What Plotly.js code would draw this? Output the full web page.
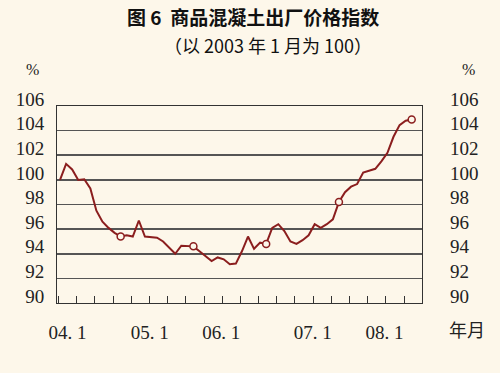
<!DOCTYPE html>
<html>
<head>
<meta charset="utf-8">
<script src="https://cdn.plot.ly/plotly-3.0.1.min.js"></script>
<style>html,body{margin:0;padding:0;background:#FDF7EA;}</style>
</head>
<body>
<div id="chart" style="width:500px;height:373px;"></div>
<script>
// Monthly index (2003年1月 = 100), month number counted from the first point
const months = [];
const priceIndex = [
  100.0, 101.3, 100.85, 100.0, 100.05, 99.3, 97.5, 96.6, 96.1, 95.7,
  95.4, 95.5, 95.4, 96.7, 95.4, 95.35, 95.3, 95.0, 94.5, 94.0,
  94.65, 94.6, 94.6, 94.2, 93.8, 93.4, 93.7, 93.55, 93.15, 93.2,
  94.2, 95.4, 94.4, 94.9, 94.8, 96.1, 96.4, 95.85, 95.0, 94.8,
  95.1, 95.5, 96.4, 96.1, 96.4, 96.8, 98.2, 99.0, 99.45, 99.66,
  100.6, 100.75, 100.9, 101.5, 102.2, 103.5, 104.45, 104.8, 104.9
];
for (let i = 0; i < priceIndex.length; i++) months.push(i);

// Marked points (every 12 months)
const markIdx = [10, 22, 34, 46, 58];
const markX = markIdx.map(i => months[i]);
const markY = markIdx.map(i => priceIndex[i]);

// Axis labels
const xLabelText = ['04. 1', '05. 1', '06. 1', '07. 1', '08. 1'];
const xLabelMonth = [1.25, 14.8, 26.6, 41.7, 53.5];
const yTicks = [90, 92, 94, 96, 98, 100, 102, 104, 106];
const baseValue = 100;

const bg = '#FDF7EA';
const lineColor = '#8B1E1E';
const serif = 'Liberation Serif';
const cjk = 'Noto Sans CJK SC';

const traces = [
  {
    x: months, y: priceIndex, type: 'scatter', mode: 'lines',
    line: {color: lineColor, width: 2},
    hoverinfo: 'skip', showlegend: false
  },
  {
    x: markX, y: markY, type: 'scatter', mode: 'markers',
    marker: {symbol: 'circle', size: 7, color: bg, line: {color: lineColor, width: 1.5}},
    hoverinfo: 'skip', showlegend: false
  },
  {
    x: months, y: priceIndex, yaxis: 'y2', type: 'scatter', mode: 'lines',
    line: {color: 'rgba(0,0,0,0)', width: 0},
    hoverinfo: 'skip', showlegend: false
  }
];

const layout = {
  width: 500, height: 373,
  font: {family: serif},
  paper_bgcolor: bg, plot_bgcolor: bg,
  margin: {l: 57, r: 78, t: 106, b: 70, pad: 0},
  showlegend: false,
  xaxis: {
    range: [-0.5, 59.7], automargin: false,
    tickmode: 'array', tickvals: xLabelMonth, ticktext: xLabelText,
    ticks: '', showgrid: false, zeroline: false,
    showline: true, mirror: true, linecolor: '#333', linewidth: 1,
    tickfont: {family: serif, size: 19, color: '#222'},
    ticklabelstandoff: 12,
    minor: {tick0: 2.75, dtick: 3, ticks: 'inside', ticklen: 7, tickwidth: 1, tickcolor: '#333', showgrid: false}
  },
  yaxis: {
    range: [90, 106], automargin: false, tickmode: 'array', tickvals: yTicks,
    ticks: '', showgrid: true, gridcolor: '#555', gridwidth: 1.6,
    zeroline: false, showline: true, mirror: true, linecolor: '#333', linewidth: 1,
    tickfont: {family: serif, size: 19, color: '#222'},
    ticklabelstandoff: 8, ticklabelshift: -7
  },
  yaxis2: {
    range: [90, 106], automargin: false, tickmode: 'array', tickvals: yTicks,
    overlaying: 'y', side: 'right', ticks: '', showgrid: false, zeroline: false,
    showline: false,
    tickfont: {family: serif, size: 19, color: '#222'},
    ticklabelstandoff: 27, ticklabelshift: -7
  },
  shapes: [
    {type: 'line', xref: 'paper', x0: 0, x1: 1, yref: 'y', y0: baseValue, y1: baseValue,
     line: {color: '#8FD0DE', width: 2}, layer: 'below'}
  ],
  annotations: [
    {text: '<b>图 6  商品混凝土出厂价格指数</b>', xref: 'paper', yref: 'paper', x: 0.536, y: 1.452,
     xanchor: 'center', yanchor: 'middle',
     showarrow: false, font: {family: cjk, size: 19, color: '#111'}},
    {text: '（以 2003 年 1 月为 100）', xref: 'paper', yref: 'paper', x: 0.579, y: 1.31,
     xanchor: 'center', yanchor: 'middle',
     showarrow: false, font: {family: cjk, size: 18, color: '#111'}},
    {text: '%', xref: 'paper', yref: 'paper', x: -0.067, y: 1.183, xanchor: 'center', yanchor: 'middle',
     showarrow: false, font: {family: serif, size: 16, color: '#222'}},
    {text: '%', xref: 'paper', yref: 'paper', x: 1.127, y: 1.183, xanchor: 'center', yanchor: 'middle',
     showarrow: false, font: {family: serif, size: 16, color: '#222'}},
    {text: '年月', xref: 'paper', yref: 'paper', x: 1.123, y: -0.132, xanchor: 'center', yanchor: 'middle',
     showarrow: false, font: {family: cjk, size: 18, color: '#222'}}
  ]
};

Plotly.newPlot('chart', traces, layout, {staticPlot: true, displayModeBar: false});
</script>
</body>
</html>
